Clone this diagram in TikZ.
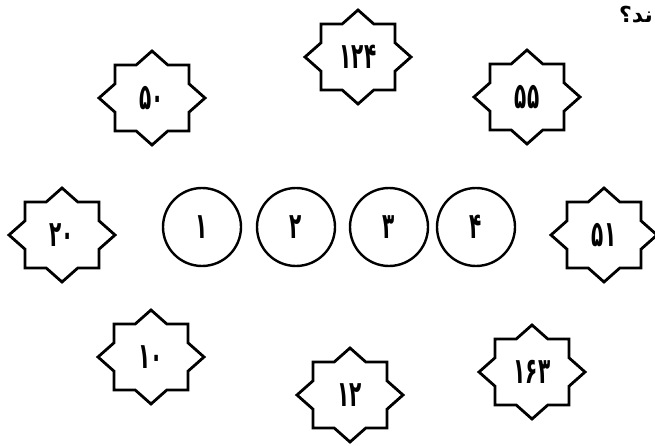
\documentclass[tikz,border=0pt]{standalone}
\usepackage{graphicx}
\usepackage{fontspec}
\newfontfamily\persianfont[Script=Arabic]{DejaVu Sans}
\TeXXeTstate=1

\newcommand{\tall}[1]{\scalebox{1}[1.8]{#1}}
\newcommand{\thestar}[3]{
    \node[digit] (#1) at (#2) {\tall{#3}};
    \draw[starline, shift={(#1.center)}]
        (0,47) -- (15.8,33) -- (37,33) -- (37,14.2) -- (53,0)
        -- (37,-14.2) -- (37,-33) -- (15.8,-33) -- (0,-47)
        -- (-15.8,-33) -- (-37,-33) -- (-37,-14.2) -- (-53,0)
        -- (-37,14.2) -- (-37,33) -- (-15.8,33) -- cycle;
}
\tikzset{x=1pt, y=1pt,
    digit/.style={font=\persianfont\bfseries\fontsize{20}{22}\selectfont, inner sep=0pt},
    starline/.style={line width=2.8pt, line join=miter},
    ring/.style={circle, draw, line width=2.4pt, minimum size=78pt, digit}}

\begin{document}
\begin{tikzpicture}
                \useasboundingbox (0,0) rectangle (655,445);
                \thestar{s124}{358,388}{۱۲۴}
                \thestar{s50}{152,347}{۵۰}
                \thestar{s55}{527,348}{۵۵}
                \thestar{s20}{62,210}{۲۰}
                \thestar{s51}{604,210}{۵۱}
                \thestar{s10}{151,88}{۱۰}
                \thestar{s12}{350,50}{۱۲}
                \thestar{s163}{532,73}{۱۶۳}
                \foreach \n/\x in {1/202, 2/296, 3/389, 4/476}
                    \node[ring] (c\n) at (\x,218) {\tall{\ifcase\n\or ۱\or ۲\or ۳\or ۴\fi}};
                \node[anchor=east, font=\persianfont\bfseries\fontsize{22}{26}\selectfont, inner sep=0pt] (question) at (653,430) {\beginR ند؟\endR};
            \end{tikzpicture}
\end{document}
